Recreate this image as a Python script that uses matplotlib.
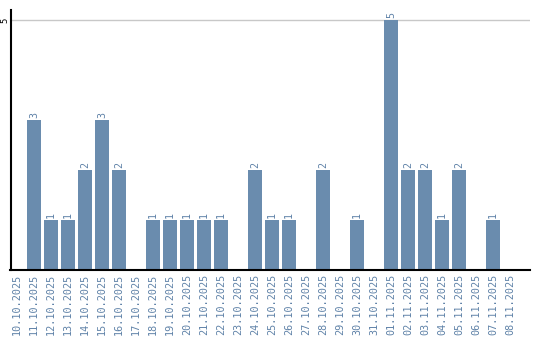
import matplotlib
matplotlib.use("Agg")
import matplotlib.pyplot as plt
import numpy as np

# Daily counts, 10.10.2025 - 08.11.2025
dates = ["10.10.2025", "11.10.2025", "12.10.2025", "13.10.2025", "14.10.2025",
         "15.10.2025", "16.10.2025", "17.10.2025", "18.10.2025", "19.10.2025",
         "20.10.2025", "21.10.2025", "22.10.2025", "23.10.2025", "24.10.2025",
         "25.10.2025", "26.10.2025", "27.10.2025", "28.10.2025", "29.10.2025",
         "30.10.2025", "31.10.2025", "01.11.2025", "02.11.2025", "03.11.2025",
         "04.11.2025", "05.11.2025", "06.11.2025", "07.11.2025", "08.11.2025"]
counts = [0, 3, 1, 1, 2, 3, 2, 0, 1, 1,
          1, 1, 1, 0, 2, 1, 1, 0, 2, 0,
          1, 0, 5, 2, 2, 1, 2, 0, 1, 0]

bar_color = "#6a8cae"
label_color = "#5f82a8"

fig = plt.figure(figsize=(5.4, 3.4), dpi=100)
ax = fig.add_axes([10.5 / 540, 70 / 340, 519.5 / 540, 260 / 340])

x = np.arange(len(dates))
ax.bar(x, counts, width=0.82, color=bar_color, zorder=2)

# value labels above non-empty bars
for xi, v in zip(x, counts):
    if v > 0:
        ax.text(xi, v + 0.04, str(v), rotation=90, ha="center", va="bottom",
                fontsize=7.2, color=label_color, family="DejaVu Sans Mono")

ax.set_xlim(-0.38, 30.18)
ax.set_ylim(0, 5.2)

ax.set_xticks(x)
ax.set_xticklabels(dates, rotation=90, fontsize=7.3, color=label_color,
                   family="DejaVu Sans Mono")
ax.set_yticks([5])
ax.set_yticklabels(["5"], rotation=90, fontsize=6.5, va="center",
                   family="DejaVu Sans Mono")
ax.tick_params(axis="x", length=0, pad=3)
ax.tick_params(axis="y", length=0, pad=0.5)

ax.axhline(5, color="#c8c8c8", linewidth=1, zorder=1)

for side in ["top", "right"]:
    ax.spines[side].set_visible(False)
ax.spines["left"].set_linewidth(1.5)
ax.spines["bottom"].set_linewidth(1.5)

fig.savefig("out.png", dpi=100)
